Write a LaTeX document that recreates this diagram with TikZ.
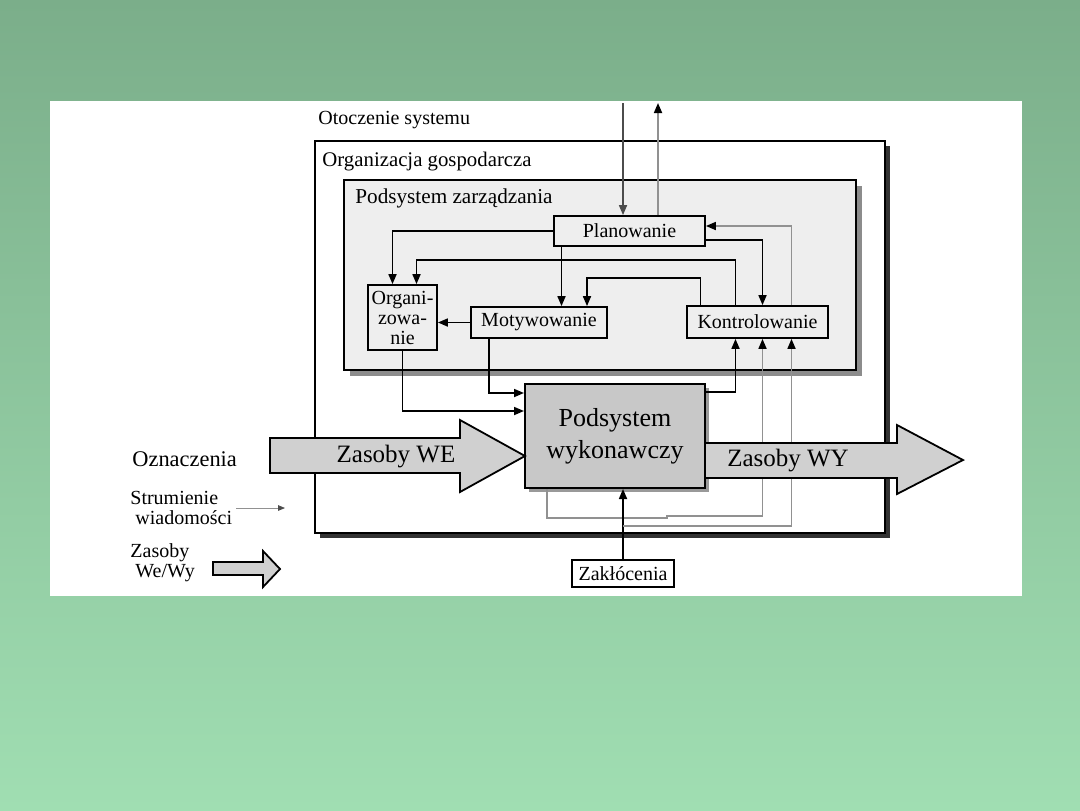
\documentclass[tikz,border=0pt]{standalone}
\usepackage{fontspec}
\setmainfont{Liberation Serif}
\usepackage{tikz}
\usetikzlibrary{arrows.meta, positioning, calc, shadows}
\definecolor{slidetop}{RGB}{123, 174, 138}
\definecolor{slidebot}{RGB}{160, 222, 178}
\definecolor{boxsoft}{RGB}{238, 238, 238}
\definecolor{boxmid}{RGB}{200, 200, 200}
\definecolor{flowgray}{RGB}{145, 145, 145}
\tikzset{
    fn/.style    ={draw=black, line width=0.9pt, fill=boxsoft, inner sep=0pt,
                   align=center, font=\fontsize{10}{10}\selectfont},
    area/.style  ={draw=black, line width=0.9pt, fill=white, inner sep=0pt},
    ar/.style    ={-{Triangle[length=5pt, width=4pt]}, line width=0.85pt, draw=black},
    arg/.style   ={-{Triangle[length=5pt, width=4pt, black]}, line width=0.85pt, draw=flowgray},
    res/.style   ={draw=black, line width=0.9pt, fill=boxmid!85},
    lbl/.style   ={font=\fontsize{10}{10}\selectfont, inner sep=0pt, align=left},
    biglbl/.style={font=\fontsize{12.5}{16}\selectfont, inner sep=0pt, align=center}
}

\begin{document}
\begin{tikzpicture}[x=0.5pt, y=-0.5pt]
  \useasboundingbox (0,0) rectangle (1080,810);
  \fill[top color=slidetop, bottom color=slidebot] (0,0) rectangle (1080,810);
  \fill[white] (50,101) rectangle (1022,596);

  \node[area, line width=1.1pt, drop shadow={shadow xshift=2.5pt, shadow yshift=-2.5pt, fill=black!80, opacity=1},
        minimum width=285pt, minimum height=196pt] (orggosp) at (600,337) {};
  \node[area, fill=boxsoft, drop shadow={shadow xshift=3pt, shadow yshift=-3pt, fill=black!45, opacity=1},
        minimum width=256pt, minimum height=95pt] (zarz) at (600,275) {};

  \node[lbl, anchor=base west] (otoczenie) at (318,124) {Otoczenie systemu};
  \node[lbl, font=\fontsize{10.4}{10}\selectfont, anchor=base west] (orglbl) at (322,166) {Organizacja gospodarcza};
  \node[lbl, font=\fontsize{10.6}{10}\selectfont, anchor=base west] (zarzlbl) at (355,203) {Podsystem zarządzania};

  \node[fn, minimum width=75.5pt, minimum height=15pt] (plan) at (629.5,231) {Planowanie};
  \node[fn, minimum width=34.5pt, minimum height=32.5pt] (organ) at (402.5,317.5) {Organi-\\zowa-\\nie};
  \node[fn, minimum width=68pt, minimum height=15.5pt] (motyw) at (539,322.5) {Motywowanie};
  \node[fn, minimum width=70.5pt, minimum height=16pt] (kontr) at (757.5,322) {Kontrolowanie};
  \node[fn, fill=boxmid, line width=1pt, font=\fontsize{13}{16}\selectfont,
        drop shadow={shadow xshift=2pt, shadow yshift=-2pt, fill=black!40, opacity=1},
        minimum width=90pt, minimum height=52pt] (wyk) at (615,436) {Podsystem\\wykonawczy};
  \node[fn, fill=white, minimum width=51pt, minimum height=13.5pt] (zakl) at (623,573.5) {Zakłócenia};

  \coordinate (envin)  at (623,103);
  \coordinate (envout) at (658,103);
  \draw[ar, draw=black!70] (envin) -- (envin |- plan.north);
  \draw[arg] (envout |- plan.north) -- (envout);

  \draw[ar] (plan.west) -| ([xshift=-5pt]organ.north);
  \draw[ar] ([xshift=-11pt]kontr.north) -- ++(0,-45) -| ([xshift=7pt]organ.north);
  \draw[ar] ([xshift=-28.5pt]kontr.north) -- ++(0,-27) -| ([xshift=24pt]motyw.north);
  \draw[ar] ([xshift=-34pt]plan.south) -- ([xshift=-34pt]plan.south |- motyw.north);
  \draw[ar] ([yshift=-4.5pt]plan.east) -| ([xshift=2.5pt]kontr.north);
  \draw[arg] ([xshift=17pt]kontr.north) |- ([yshift=2.5pt]plan.east);
  \draw[ar] (motyw.west) -- (motyw.west -| organ.east);

  \draw[ar] (organ.south) |- ([yshift=12.5pt]wyk.west);
  \draw[ar] ([xshift=-25pt]motyw.south) |- ([yshift=21.5pt]wyk.west);
  \draw[ar] ([yshift=22pt]wyk.east) -| ([xshift=-11pt]kontr.south);
  \draw[arg] ([xshift=-34pt]wyk.south) -- ++(0,29) -- ++(120,0) -- ++(0,-2) -| ([xshift=2.5pt]kontr.south);
  \draw[ar] (zakl.north) -- (zakl.north |- wyk.south);
  \coordinate (zjoin) at ($(zakl.north)+(0,-33)$);
  \draw[arg] (zjoin) -| ([xshift=17pt]kontr.south);

  \draw[res] (270,438) -- (460,438) -- (460,420) -- (525,456) -- (460,492) -- (460,473) -- (270,473) -- cycle;
  \node[biglbl] (zasobywe) at (396,457) {Zasoby WE};
  \draw[res] (705,443) -- (897,443) -- (897,425) -- (963,460) -- (897,494) -- (897,478) -- (705,478) -- cycle;
  \node[biglbl] (zasobywy) at (788,461) {Zasoby WY};

  \node[lbl, font=\fontsize{11.2}{12}\selectfont, anchor=base west] (ozn) at (132,466) {Oznaczenia};
  \node[lbl, anchor=west] (legmsg) at (130,508) {Strumienie\\\hspace{2.5pt}wiadomości};
  \coordinate (legmsgend) at (285,508);
  \draw[arg, -{Triangle[length=3.5pt, width=2.8pt, black!70]}, line width=0.4pt] ([xshift=2pt]legmsg.east) -- (legmsgend);
  \node[lbl, anchor=west] (legres) at (130,563) {Zasoby\\\hspace{2.5pt}We/Wy};
  \draw[res] (213,562) -- (263,562) -- (263,551) -- (280,569) -- (263,587) -- (263,575) -- (213,575) -- cycle;
\end{tikzpicture}
\end{document}
